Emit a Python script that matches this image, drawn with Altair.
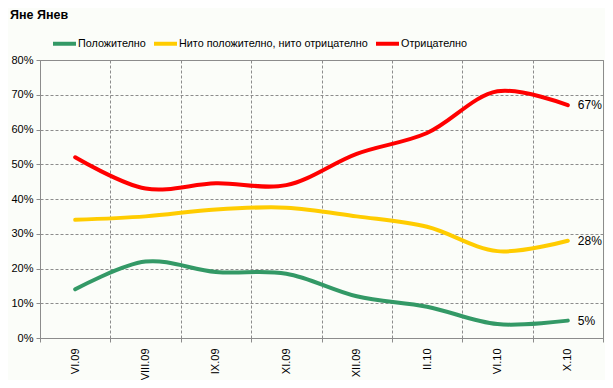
import altair as alt
import pandas as pd

cats = ["VI.09", "VIII.09", "IX.09", "XI.09", "XII.09", "II.10", "VI.10", "X.10"]
series = ["Положително", "Нито положително, нито отрицателно", "Отрицателно"]
positive = [14, 22, 19, 18.5, 12, 9, 4, 5]
neutral = [34, 35, 37, 37.5, 35, 32, 25, 28]
negative = [52, 43, 44.5, 44, 53, 59, 71, 67]
colors = ["#339966", "#FFCC00", "#FF0000"]
y_ticks = [0, 0.1, 0.2, 0.3, 0.4, 0.5, 0.6, 0.7, 0.8]

rows = []
for s, vals in zip(series, [positive, neutral, negative]):
    for c, v in zip(cats, vals):
        rows.append({"period": c, "series": s, "value": v / 100})
df = pd.DataFrame(rows)

FONT = "Liberation Sans"
GRID = "#8c8c8c"

x = alt.X(
    "period:N",
    sort=cats,
    scale=alt.Scale(type="band", paddingInner=0, paddingOuter=0),
    axis=alt.Axis(
        title=None, labelAngle=-90, tickBand="extent", grid=True,
        gridDash=[3, 2], gridColor=GRID, domainColor=GRID, tickColor=GRID,
        tickSize=4, labelPadding=6, labelFontSize=11, labelColor="#000",
        labelFont=FONT,
    ),
)
y = alt.Y(
    "value:Q",
    scale=alt.Scale(domain=[0, 0.8], nice=False),
    axis=alt.Axis(
        title=None, format=".0%", values=y_ticks, grid=True, gridDash=[3, 2],
        gridColor=GRID, domainColor=GRID, tickColor=GRID, tickSize=4,
        labelPadding=3, labelFontSize=11, labelColor="#000", labelFont=FONT,
    ),
)

lines = alt.Chart(df).mark_line(
    interpolate="catmull-rom", strokeWidth=4, strokeCap="round"
).encode(
    x=x,
    y=y,
    color=alt.Color(
        "series:N",
        sort=series,
        scale=alt.Scale(domain=series, range=colors),
        legend=alt.Legend(
            title=None, orient="none", legendX=11, legendY=-30,
            direction="horizontal", symbolType="stroke", symbolStrokeWidth=4,
            symbolSize=529, labelFontSize=10.8, labelFont=FONT, labelColor="#000",
            labelOffset=0, columnPadding=0, labelLimit=400,
        ),
    ),
)

labels = alt.Chart(df).transform_filter(
    alt.datum.period == cats[-1]
).mark_text(
    align="left", dx=10, fontSize=12, font=FONT, color="#000"
).encode(
    x=x, y=y, text=alt.Text("value:Q", format=".0%")
)

chart = alt.layer(lines, labels).properties(
    width=563,
    height=278,
    autosize="none",
    padding={"left": 32, "top": 52, "right": 2, "bottom": 42},
    background="#fbfdf9",
    title=alt.TitleParams(
        text="Яне Янев", anchor="start", frame="group", fontSize=12.5,
        fontWeight="bold", font=FONT, color="#000", dx=-30, dy=-5,
    ),
).configure_view(stroke=GRID, strokeWidth=1)

chart.save("out.html", embed_options={"renderer": "svg", "actions": False})
